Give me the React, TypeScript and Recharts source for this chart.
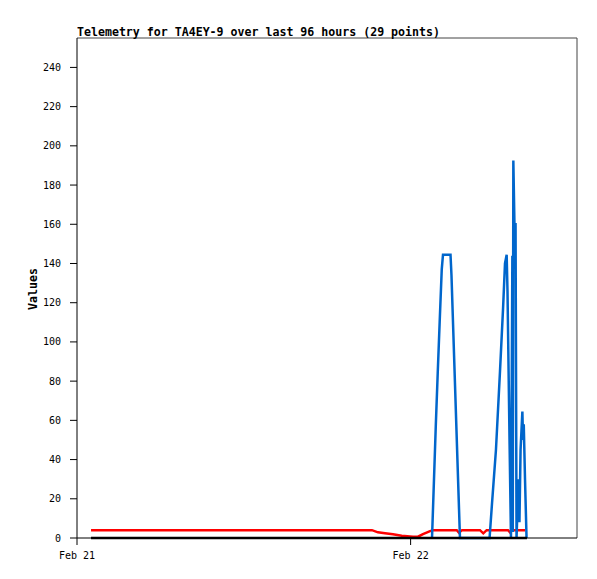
import { LineChart, Line, XAxis, YAxis, ReferenceLine } from "recharts";

// time = hours since Feb 21 00:00
const blueTimes = [
  25.54, 25.81, 25.95, 26.09, 26.24, 26.33, 26.87, 26.94, 27.55, 29.68, 29.86, 30.14, 30.43, 30.65,
  30.79, 30.91, 30.97, 31.12, 31.22, 31.32, 31.35, 31.39, 31.47, 31.55, 31.62, 31.76, 31.83, 31.91,
  32.04, 32.09, 32.14, 32.23, 32.34,
];
const blueValues = [
  0, 57, 84, 110, 137, 144.5, 144.5, 134, 0, 0, 18, 45, 85, 117, 140, 144.5, 126, 48, 0, 144, 3,
  192.5, 160, 160, 0, 30, 8, 45, 64.5, 50, 58, 30, 0,
];

const redTimes = [
  1.01, 21.22, 21.65, 22.16, 22.73, 23.36, 24.17, 24.53, 24.89, 25.4, 25.61, 27.32, 27.48, 27.7,
  28.99, 29.23, 29.47, 31.01, 31.15, 31.29, 32.23,
];
const redValues = [4, 4, 2.9, 2.4, 1.9, 1.2, 0.7, 0.7, 2, 3.5, 4, 4, 2.7, 4, 4, 2.4, 4, 4, 2.9, 4, 4];

const blackTimes = [1.01, 32.37];
const blackValues = [0, 0];

const xTicks = [0, 24];
const xTickLabels = ["Feb 21", "Feb 22"];
const yTicks = [0, 20, 40, 60, 80, 100, 120, 140, 160, 180, 200, 220, 240];

const X_MAX = 35.97;
const Y_MAX = 255;

const toPoints = (ts: number[], vs: number[]) => ts.map((t, i) => ({ t, v: vs[i] }));

const MONO = "'DejaVu Sans Mono', monospace";

export default function App() {
  const blue = toPoints(blueTimes, blueValues);
  const red = toPoints(redTimes, redValues);
  const black = toPoints(blackTimes, blackValues);

  return (
    <div style={{ position: "absolute", left: 0, top: 0, width: 597, height: 579, background: "#fff" }}>
      <LineChart width={597} height={579} margin={{ top: 38, right: 20, bottom: 11, left: 0 }}>
        <XAxis
          type="number"
          dataKey="t"
          domain={[0, X_MAX]}
          ticks={xTicks}
          tickFormatter={(v) => xTickLabels[xTicks.indexOf(v)] ?? ""}
          height={30}
          tickSize={7}
          tickMargin={7}
          axisLine={{ stroke: "#000" }}
          tickLine={{ stroke: "#000" }}
          tick={{ fontSize: 10, fontFamily: MONO, fill: "#000" }}
        />
        <YAxis
          type="number"
          dataKey="v"
          domain={[0, Y_MAX]}
          ticks={yTicks}
          width={77}
          tickSize={7}
          tickMargin={9}
          axisLine={{ stroke: "#000" }}
          tickLine={{ stroke: "#000" }}
          tick={{ fontSize: 10, fontFamily: MONO, fill: "#000" }}
        />
        <ReferenceLine y={Y_MAX} stroke="#444" strokeWidth={1} />
        <ReferenceLine x={X_MAX} stroke="#444" strokeWidth={1} />
        <Line data={red} dataKey="v" type="linear" stroke="#ff0000" strokeWidth={2.5} dot={false} isAnimationActive={false} />
        <Line data={blue} dataKey="v" type="linear" stroke="#0066cc" strokeWidth={2.5} dot={false} isAnimationActive={false} />
        <Line data={black} dataKey="v" type="linear" stroke="#000" strokeWidth={2.5} dot={false} isAnimationActive={false} />
      </LineChart>
      <svg
        width={597}
        height={579}
        style={{ position: "absolute", left: 0, top: 0, pointerEvents: "none" }}
      >
        <text x={77} y={36} fontFamily={MONO} fontWeight="bold" fontSize={11.6} fill="#000">
          Telemetry for TA4EY-9 over last 96 hours (29 points)
        </text>
        <text
          transform="translate(37,289) rotate(-90)"
          textAnchor="middle"
          fontFamily={MONO}
          fontWeight="bold"
          fontSize={11.6}
          fill="#000"
        >
          Values
        </text>
      </svg>
    </div>
  );
}
